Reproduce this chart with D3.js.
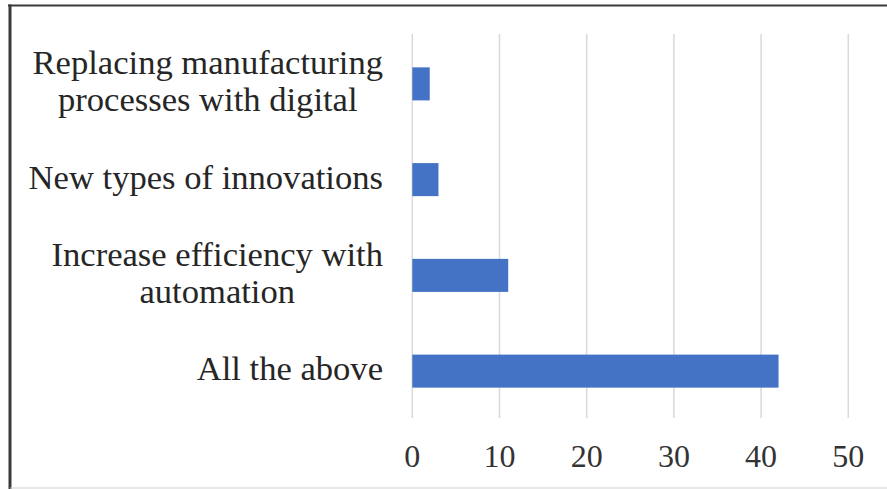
<!DOCTYPE html>
<html>
<head>
<meta charset="utf-8">
<script src="https://cdn.jsdelivr.net/npm/d3@7/dist/d3.min.js"></script>
<style>
  html, body { margin: 0; padding: 0; background: #fff; }
  svg { display: block; }
</style>
</head>
<body>
<svg id="chart" width="887" height="489"></svg>
<script>
// Survey answers, top to bottom
const categories = [
  ["Replacing manufacturing", "processes with digital"],
  ["New types of innovations"],
  ["Increase efficiency with", "automation"],
  ["All the above"]
];
const values = [2, 3, 11, 42];
const tickValues = [0, 10, 20, 30, 40, 50];

const svg = d3.select("#chart");
const W = 887, H = 489;

// Frame
svg.append("rect").attr("x", 0).attr("y", 0).attr("width", W).attr("height", H).attr("fill", "#fff");
svg.append("line").attr("x1", 8).attr("x2", W).attr("y1", 5.5).attr("y2", 5.5)
  .attr("stroke", "#3a3a3a").attr("stroke-width", 2);
svg.append("line").attr("x1", 10).attr("x2", 10).attr("y1", 4.5).attr("y2", H)
  .attr("stroke", "#3a3a3a").attr("stroke-width", 3);
svg.append("line").attr("x1", 10).attr("x2", W).attr("y1", 488).attr("y2", 488)
  .attr("stroke", "#d0d0d0").attr("stroke-width", 1);

const x = d3.scaleLinear().domain([0, 50]).range([412.3, 848.3]);
const y = d3.scaleBand().domain(d3.range(categories.length)).range([36, 419]).paddingInner(0.655).paddingOuter(0.3275);

// Vertical gridlines
svg.append("g").selectAll("line").data(tickValues).join("line")
  .attr("x1", d => x(d)).attr("x2", d => x(d))
  .attr("y1", 34).attr("y2", 418)
  .attr("stroke", "#d9d9d9").attr("stroke-width", 1.5);

// Bars
svg.append("g").selectAll("rect").data(values).join("rect")
  .attr("x", x(0))
  .attr("y", (d, i) => y(i))
  .attr("width", d => x(d) - x(0))
  .attr("height", y.bandwidth())
  .attr("fill", "#4472C4");

// Category labels: lines centred within their block, block right-aligned
const font = "Liberation Serif, 'Times New Roman', serif";
const lineH = 37;
const labelRight = 383;
const lg = svg.append("g").attr("font-family", font).attr("font-size", 34.6).attr("fill", "#262626");
categories.forEach((lines, i) => {
  const cy = y(i) + y.bandwidth() / 2;
  const t = lg.append("text").attr("text-anchor", "middle");
  const spans = lines.map((s, k) => t.append("tspan")
    .attr("y", cy + 9 - (lines.length - 1) * lineH / 2 + k * lineH)
    .text(s));
  const maxW = d3.max(spans, sp => sp.node().getComputedTextLength());
  spans.forEach(sp => sp.attr("x", labelRight - maxW / 2));
});

// Axis tick labels
svg.append("g").attr("font-family", font).attr("font-size", 32).attr("fill", "#333")
  .selectAll("text").data(tickValues).join("text")
  .attr("x", d => x(d)).attr("y", 466.5)
  .attr("text-anchor", "middle")
  .text(d => d);
</script>
</body>
</html>
